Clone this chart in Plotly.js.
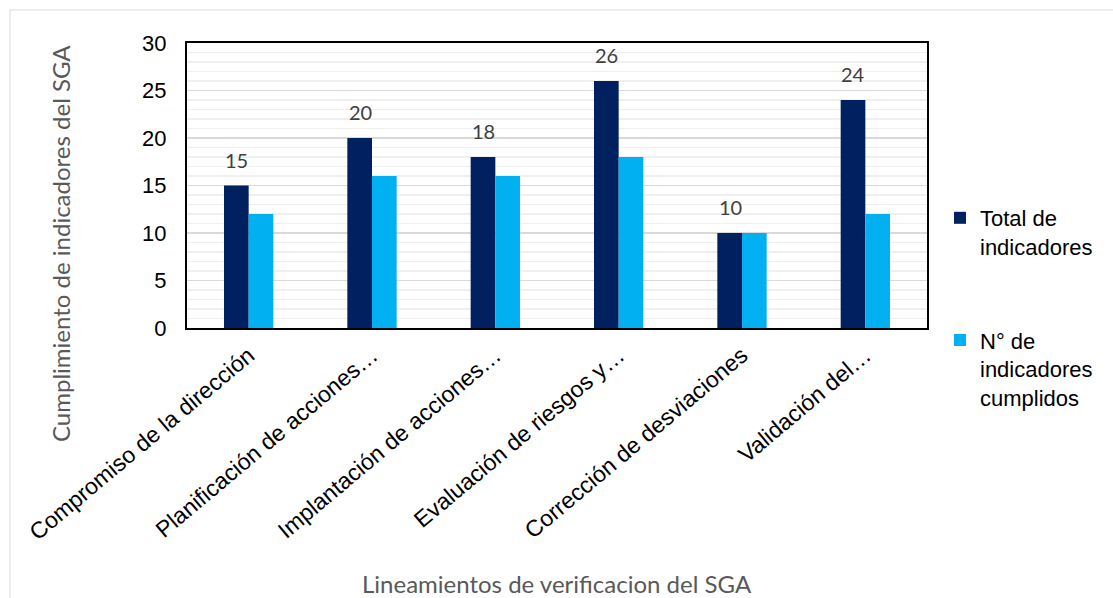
<!DOCTYPE html>
<html>
<head>
<meta charset="utf-8">
<script src="https://cdn.plot.ly/plotly-3.0.1.min.js"></script>
<style>html,body{margin:0;padding:0;background:#fff;}#chart{width:1113px;height:598px;}</style>
</head>
<body>
<div id="chart"></div>
<script>
const categories = [
  "Compromiso de la dirección",
  "Planificación de acciones…",
  "Implantación de acciones…",
  "Evaluación de riesgos y…",
  "Corrección de desviaciones",
  "Validación del…"
];
const totalIndicadores = [15, 20, 18, 26, 10, 24];
const indicadoresCumplidos = [12, 16, 16, 18, 10, 12];
const seriesNames = ["Total de<br>indicadores", "N° de<br>indicadores<br>cumplidos"];
const yTitle = "Cumplimiento de indicadores del SGA";
const xTitle = "Lineamientos de verificacion del SGA";

const L = 187, R = 927, T = 43, B = 328;
const px = x => (x - L) / (R - L);
const py = y => (B - y) / (B - T);

const traces = [
  {type:'bar', x:categories, y:totalIndicadores, name:seriesNames[0], marker:{color:'#002060'}, legendgroup:'a'},
  {type:'bar', x:categories, y:indicadoresCumplidos, name:seriesNames[1], marker:{color:'#00B0F0'}, legendgroup:'b'}
];

const titleFont = {family:'Lato, Open Sans, sans-serif', size:24, color:'#595959'};

const annotations = categories.map((c, i) => ({
  x: c, y: totalIndicadores[i], xref:'x', yref:'y', text: String(totalIndicadores[i]),
  showarrow:false, xshift:-12, yshift:26, font:{family:'Lato, Open Sans, sans-serif', size:20, color:'#404040'}
}));
annotations.push({
  xref:'paper', yref:'paper', x:px(60), y:py(244), text:yTitle, textangle:-90,
  showarrow:false, xanchor:'center', yanchor:'middle', font:titleFont
});
annotations.push({
  xref:'paper', yref:'paper', x:0.5, y:py(583), text:xTitle,
  showarrow:false, xanchor:'center', yanchor:'middle', font:titleFont
});

const layout = {
  width:1113, height:598,
  margin:{l:L, r:1113-R, t:T, b:598-B, pad:0},
  paper_bgcolor:'#fff', plot_bgcolor:'#fff',
  barmode:'group', bargap:0.6, bargroupgap:0,
  font:{family:'Liberation Sans, Arial, sans-serif', size:22, color:'#000'},
  xaxis:{
    tickangle:-40, tickfont:{size:23, color:'#000'},
    showline:true, mirror:true, linecolor:'#000', linewidth:2, ticks:'',
    ticklabelstandoff:3,
    automargin:false
  },
  yaxis:{
    range:[0,30], dtick:5, tickfont:{size:22, color:'#000'},
    showline:true, mirror:true, linecolor:'#000', linewidth:2, ticks:'',
    ticklabelstandoff:14,
    gridcolor:'#d9d9d9', gridwidth:1.5,
    minor:{dtick:1, showgrid:true, gridcolor:'#efefef', gridwidth:1.5},
    zeroline:false,
    automargin:false
  },
  legend:{
    x:px(940), y:py(197), xanchor:'left', yanchor:'top',
    font:{size:22, color:'#000'}, traceorder:'grouped', tracegroupgap:62,
    itemwidth:30, valign:'top', bgcolor:'rgba(0,0,0,0)'
  },
  annotations: annotations,
  shapes:[{type:'rect', xref:'paper', yref:'paper', x0:px(10), x1:px(1125), y0:py(10), y1:py(610),
    line:{color:'#d9d9d9', width:1}, fillcolor:'rgba(0,0,0,0)', layer:'below'}]
};

Plotly.newPlot('chart', traces, layout, {displayModeBar:false, staticPlot:true});
</script>
</body>
</html>
